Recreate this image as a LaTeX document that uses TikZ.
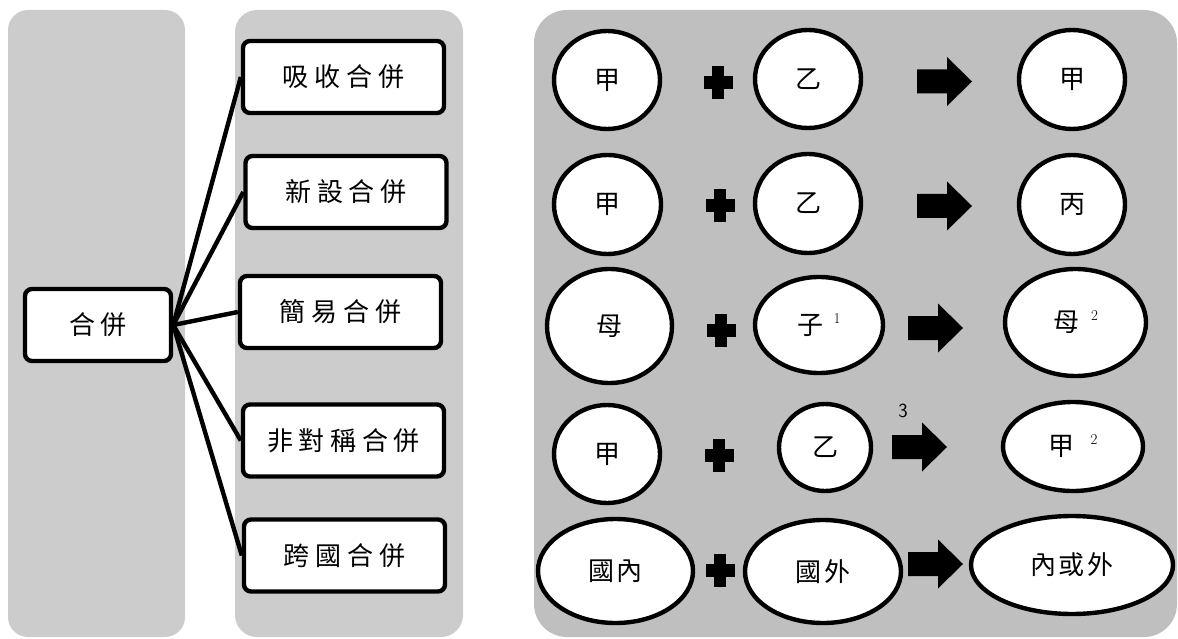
\documentclass[tikz,border=0pt]{standalone}
\usepackage{fontspec}
\usepackage{xcolor}
\usepackage{tikz}
\usetikzlibrary{shapes.geometric}
\newfontfamily\boxfont[LetterSpace=22]{Noto Sans CJK TC}
\newfontfamily\ovalfont[LetterSpace=8]{Noto Sans CJK TC}
\definecolor{panelgray}{RGB}{204,204,204}
\definecolor{boardgray}{RGB}{191,191,191}
\newcommand{\supnum}[2][12pt]{\hspace{#1}{\rmfamily\fontsize{15}{15}\selectfont\raisebox{11pt}{#2}}}

\begin{document}
\begin{tikzpicture}[x=1pt,y=-1pt,semithick]
\tikzstyle{every node}=[]
\tikzstyle{typebox}=[draw,line width=4.4pt,rounded corners=7pt,fill=white,
                     minimum width=201pt,minimum height=72pt,
                     font=\boxfont\fontsize{26}{30}\selectfont]
\tikzstyle{firm}=[ellipse,draw,line width=4.4pt,fill=white,inner sep=0pt,
                  font=\ovalfont\fontsize{26}{30}\selectfont]
\tikzstyle{link}=[line width=4.4pt]
\useasboundingbox (0,0) rectangle (1178,639);

% panels
\fill[panelgray,rounded corners=20pt] (8,10) rectangle (185,637);
\fill[panelgray,rounded corners=22pt] (235,10) rectangle (463,637);
\fill[boardgray,rounded corners=33pt] (534,10) rectangle (1177,637);

% kinds of merger
\node[typebox,minimum width=146pt] (MERGE) at (98,325) {合併};
\node[typebox] (ABS) at (343.5,77) {吸收合併};
\node[typebox] (NEW) at (346,192) {新設合併};
\node[typebox] (SIMP) at (340.5,312) {簡易合併};
\node[typebox] (ASYM) at (343.5,440.5) {非對稱合併};
\node[typebox] (CROSS) at (344.5,555.5) {跨國合併};

\path[link] (MERGE.east) edge (ABS.west) edge (NEW.west) edge (SIMP.west)
            edge (ASYM.west) edge (CROSS.west);

% companies
\node[firm,minimum width=106pt,minimum height=98pt] (A1) at (607,80) {甲};
\node[firm,minimum width=106pt,minimum height=98pt] (B1) at (808,79) {乙};
\node[firm,minimum width=106pt,minimum height=99pt] (C1) at (1072,79.5) {甲};

\node[firm,minimum width=107pt,minimum height=99pt] (A2) at (607.5,204.5) {甲};
\node[firm,minimum width=106pt,minimum height=99pt] (B2) at (808,203.5) {乙};
\node[firm,minimum width=106pt,minimum height=99pt] (C2) at (1072,204.5) {丙};

\node[firm,minimum width=125pt,minimum height=114pt] (A3) at (609.5,326) {母};
\node[firm,minimum width=128pt,minimum height=96pt] (B3) at (819,325) {子\supnum[10pt]{1}};
\node[firm,minimum width=141pt,minimum height=107pt] (C3) at (1075.5,322.5) {母\supnum{2}};

\node[firm,minimum width=106pt,minimum height=98pt] (A4) at (607,454) {甲};
\node[firm,minimum width=92pt,minimum height=87pt] (B4) at (825,447.5) {乙};
\node[firm,minimum width=140pt,minimum height=89pt] (C4) at (1073,446.5) {甲\supnum[16pt]{2}};

\node[firm,minimum width=155pt,minimum height=104pt] (A5) at (615.5,571) {國內};
\node[firm,minimum width=156pt,minimum height=103pt] (B5) at (823,571.5) {國外};
\node[firm,minimum width=202pt,minimum height=98pt] (C5) at (1072,565) {內或外};

\node[font=\sffamily\fontsize{20}{22}\selectfont] (NOTE) at (903,411) {3};

% plus signs
\foreach \x/\y in {718/83,720/206,721/330,719/455,720/570}
{
  \fill (\x-6,\y-16.5) rectangle ++(12,33);
  \fill (\x-14.5,\y-6.5) rectangle ++(29,13);
}

% result arrows
\coordinate (AR1) at (917,81.5);
\coordinate (AR2) at (917,206);
\coordinate (AR3) at (908,328);
\coordinate (AR4) at (892,447);
\coordinate (AR5) at (908,564);
\foreach \n in {1,...,5}
  \fill (AR\n) ++(0,-12) -- ++(30,0) -- ++(0,-12.5) -- ++(25,24.5)
        -- ++(-25,24.5) -- ++(0,-12.5) -- ++(-30,0) -- cycle;
\end{tikzpicture}
\end{document}
